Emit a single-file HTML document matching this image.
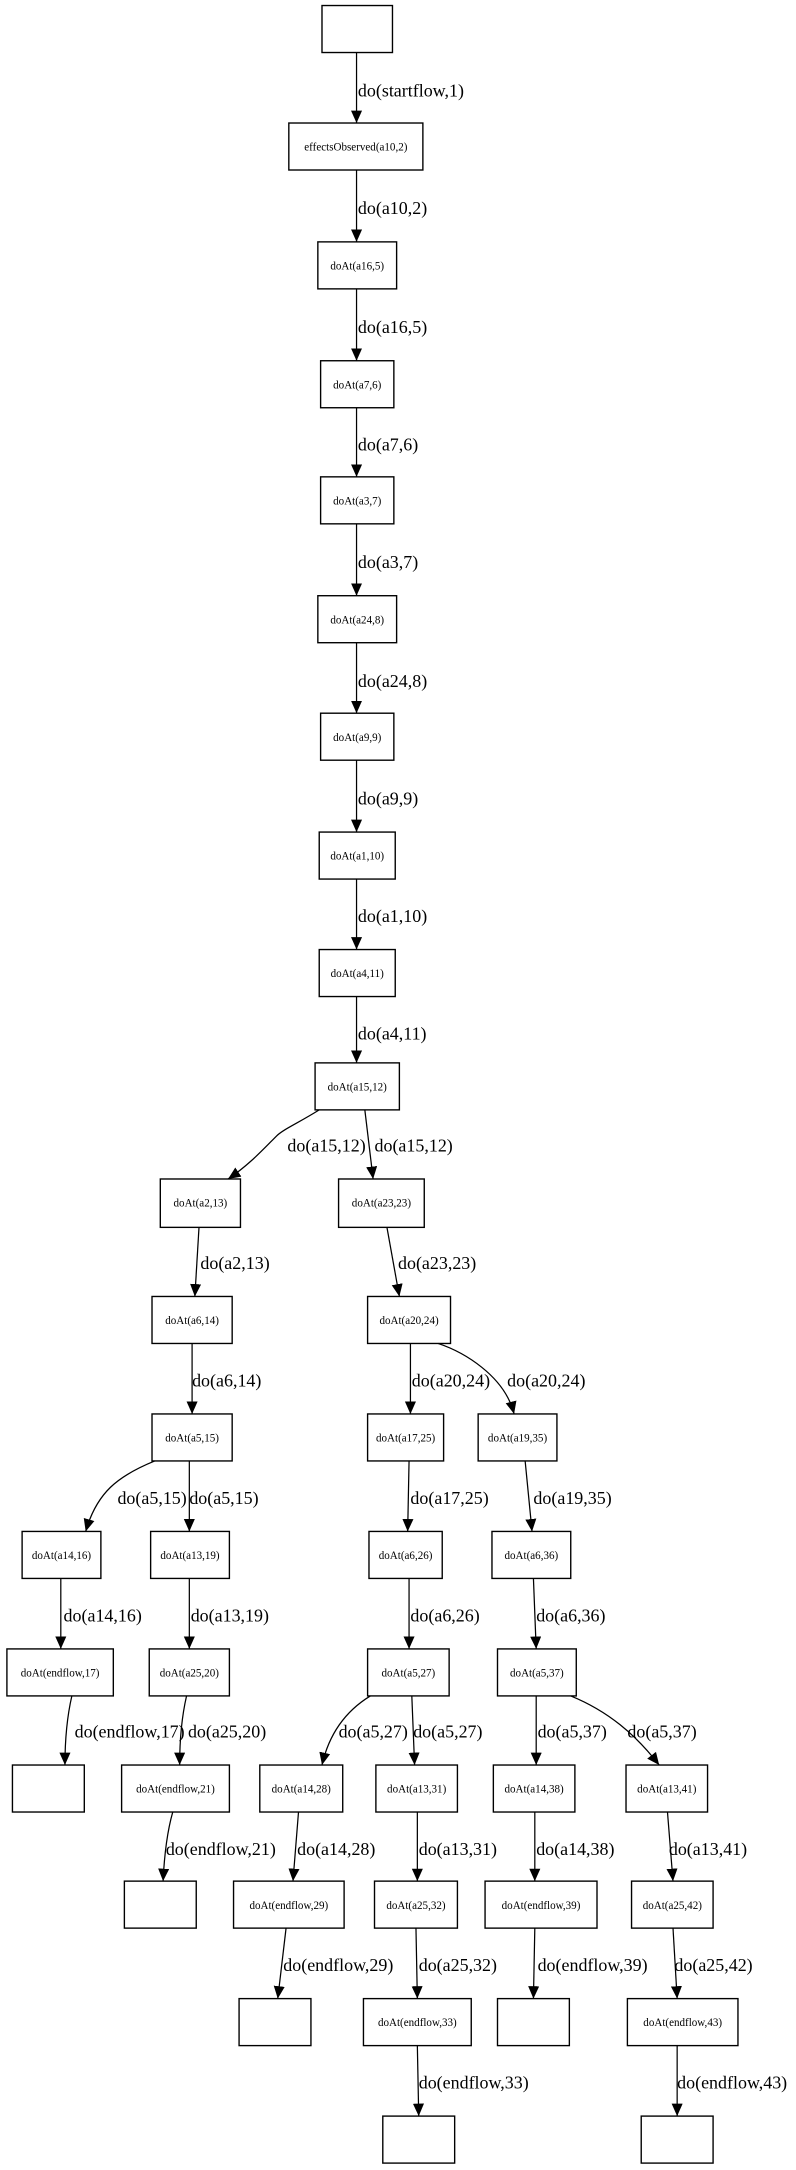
<!DOCTYPE html>
<html><head><meta charset="utf-8"><style>
html,body{margin:0;padding:0;background:#fff;}
svg{display:block;}
.n{fill:#fff;stroke:#000;stroke-width:1;}
.t{font-family:"Liberation Serif",serif;font-size:8px;text-anchor:middle;}
.l{font-family:"Liberation Serif",serif;font-size:13px;}
.e{fill:none;stroke:#000;stroke-width:0.9;marker-end:url(#a);}
</style></head><body>
<svg width="796" height="2170" viewBox="0 0 576 1570" preserveAspectRatio="none" xmlns="http://www.w3.org/2000/svg">
<defs><marker id="a" markerWidth="10" markerHeight="10" refX="9" refY="4" orient="auto" markerUnits="userSpaceOnUse"><path d="M0,0 L9,4 L0,8 z" fill="#000"/></marker></defs>
<rect class="n" x="233" y="4" width="51" height="34"/>
<rect class="n" x="209" y="89" width="97" height="34"/><text class="t" x="257.5" y="109">effectsObserved(a10,2)</text>
<rect class="n" x="230" y="175" width="57" height="34"/><text class="t" x="258.5" y="195">doAt(a16,5)</text>
<rect class="n" x="232" y="261" width="53" height="34"/><text class="t" x="258.5" y="281">doAt(a7,6)</text>
<rect class="n" x="232" y="345" width="53" height="34"/><text class="t" x="258.5" y="365">doAt(a3,7)</text>
<rect class="n" x="230" y="431" width="57" height="34"/><text class="t" x="258.5" y="451">doAt(a24,8)</text>
<rect class="n" x="232" y="516" width="53" height="34"/><text class="t" x="258.5" y="536">doAt(a9,9)</text>
<rect class="n" x="231" y="602" width="55" height="34"/><text class="t" x="258.5" y="622">doAt(a1,10)</text>
<rect class="n" x="231" y="687" width="55" height="34"/><text class="t" x="258.5" y="707">doAt(a4,11)</text>
<rect class="n" x="228" y="769" width="61" height="34"/><text class="t" x="258.5" y="789">doAt(a15,12)</text>
<rect class="n" x="116" y="853" width="58" height="35"/><text class="t" x="145" y="873">doAt(a2,13)</text>
<rect class="n" x="245" y="853" width="62" height="35"/><text class="t" x="276" y="873">doAt(a23,23)</text>
<rect class="n" x="110" y="938" width="58" height="34"/><text class="t" x="139" y="958">doAt(a6,14)</text>
<rect class="n" x="266" y="938" width="60" height="34"/><text class="t" x="296" y="958">doAt(a20,24)</text>
<rect class="n" x="110" y="1023" width="58" height="34"/><text class="t" x="139" y="1043">doAt(a5,15)</text>
<rect class="n" x="266" y="1023" width="55" height="34"/><text class="t" x="293.5" y="1043">doAt(a17,25)</text>
<rect class="n" x="346" y="1023" width="57" height="34"/><text class="t" x="374.5" y="1043">doAt(a19,35)</text>
<rect class="n" x="16" y="1108" width="57" height="34"/><text class="t" x="44.5" y="1128">doAt(a14,16)</text>
<rect class="n" x="109" y="1108" width="57" height="34"/><text class="t" x="137.5" y="1128">doAt(a13,19)</text>
<rect class="n" x="267" y="1108" width="53" height="34"/><text class="t" x="293.5" y="1128">doAt(a6,26)</text>
<rect class="n" x="356" y="1108" width="57" height="34"/><text class="t" x="384.5" y="1128">doAt(a6,36)</text>
<rect class="n" x="5" y="1193" width="77" height="34"/><text class="t" x="43.5" y="1213">doAt(endflow,17)</text>
<rect class="n" x="108" y="1193" width="58" height="34"/><text class="t" x="137" y="1213">doAt(a25,20)</text>
<rect class="n" x="266" y="1193" width="59" height="34"/><text class="t" x="295.5" y="1213">doAt(a5,27)</text>
<rect class="n" x="360" y="1193" width="57" height="34"/><text class="t" x="388.5" y="1213">doAt(a5,37)</text>
<rect class="n" x="9" y="1277" width="52" height="34"/>
<rect class="n" x="88" y="1277" width="78" height="34"/><text class="t" x="127" y="1297">doAt(endflow,21)</text>
<rect class="n" x="188" y="1277" width="60" height="34"/><text class="t" x="218" y="1297">doAt(a14,28)</text>
<rect class="n" x="272" y="1277" width="59" height="34"/><text class="t" x="301.5" y="1297">doAt(a13,31)</text>
<rect class="n" x="357" y="1277" width="59" height="34"/><text class="t" x="386.5" y="1297">doAt(a14,38)</text>
<rect class="n" x="453" y="1277" width="59" height="34"/><text class="t" x="482.5" y="1297">doAt(a13,41)</text>
<rect class="n" x="90" y="1361" width="52" height="34"/>
<rect class="n" x="169" y="1361" width="80" height="34"/><text class="t" x="209" y="1381">doAt(endflow,29)</text>
<rect class="n" x="271" y="1361" width="60" height="34"/><text class="t" x="301" y="1381">doAt(a25,32)</text>
<rect class="n" x="351" y="1361" width="81" height="34"/><text class="t" x="391.5" y="1381">doAt(endflow,39)</text>
<rect class="n" x="457" y="1361" width="59" height="34"/><text class="t" x="486.5" y="1381">doAt(a25,42)</text>
<rect class="n" x="173" y="1446" width="52" height="34"/>
<rect class="n" x="263" y="1446" width="78" height="34"/><text class="t" x="302" y="1466">doAt(endflow,33)</text>
<rect class="n" x="360" y="1446" width="52" height="34"/>
<rect class="n" x="454" y="1446" width="80" height="34"/><text class="t" x="494" y="1466">doAt(endflow,43)</text>
<rect class="n" x="277" y="1531" width="52" height="34"/>
<rect class="n" x="464" y="1531" width="52" height="34"/>
<path class="e" d="M258,38 L258,89"/><text class="l" x="259" y="70">do(startflow,1)</text>
<path class="e" d="M258,123 L258,175"/><text class="l" x="259" y="155">do(a10,2)</text>
<path class="e" d="M258,209 L258,261"/><text class="l" x="259" y="241">do(a16,5)</text>
<path class="e" d="M258,295 L258,345"/><text class="l" x="259" y="326">do(a7,6)</text>
<path class="e" d="M258,379 L258,431"/><text class="l" x="259" y="411">do(a3,7)</text>
<path class="e" d="M258,465 L258,516"/><text class="l" x="259" y="497">do(a24,8)</text>
<path class="e" d="M258,550 L258,602"/><text class="l" x="259" y="582">do(a9,9)</text>
<path class="e" d="M258,636 L258,687"/><text class="l" x="259" y="667">do(a1,10)</text>
<path class="e" d="M258,721 L258,769"/><text class="l" x="259" y="752">do(a4,11)</text>
<path class="e" d="M231,803 C215,813 205,817 200,822 C190,832 180,843 165,853"/><text class="l" x="208" y="833">do(a15,12)</text>
<path class="e" d="M264,803 L270,853"/><text class="l" x="271" y="833">do(a15,12)</text>
<path class="e" d="M144,888 L141,938"/><text class="l" x="145" y="918">do(a2,13)</text>
<path class="e" d="M280,888 L289,938"/><text class="l" x="288" y="918">do(a23,23)</text>
<path class="e" d="M139,972 L139,1023"/><text class="l" x="139" y="1003">do(a6,14)</text>
<path class="e" d="M297,972 L297,1023"/><text class="l" x="298" y="1003">do(a20,24)</text>
<path class="e" d="M317,972 C335,978 365,995 372,1023"/><text class="l" x="367" y="1003">do(a20,24)</text>
<path class="e" d="M112,1057 C85,1068 70,1080 62,1108"/><text class="l" x="85" y="1088">do(a5,15)</text>
<path class="e" d="M137,1057 L137,1108"/><text class="l" x="137" y="1088">do(a5,15)</text>
<path class="e" d="M296,1057 L295,1108"/><text class="l" x="297" y="1088">do(a17,25)</text>
<path class="e" d="M380,1057 L385,1108"/><text class="l" x="386" y="1088">do(a19,35)</text>
<path class="e" d="M44,1142 L44,1193"/><text class="l" x="46" y="1173">do(a14,16)</text>
<path class="e" d="M137,1142 L137,1193"/><text class="l" x="138" y="1173">do(a13,19)</text>
<path class="e" d="M296,1142 L296,1193"/><text class="l" x="297" y="1173">do(a6,26)</text>
<path class="e" d="M386,1142 L388,1193"/><text class="l" x="388" y="1173">do(a6,36)</text>
<path class="e" d="M52,1227 C49,1240 47,1255 47,1277"/><text class="l" x="54" y="1257">do(endflow,17)</text>
<path class="e" d="M135,1227 C132,1240 130,1255 130,1277"/><text class="l" x="136" y="1257">do(a25,20)</text>
<path class="e" d="M268,1227 C250,1238 238,1255 233,1277"/><text class="l" x="245" y="1257">do(a5,27)</text>
<path class="e" d="M298,1227 L300,1277"/><text class="l" x="299" y="1257">do(a5,27)</text>
<path class="e" d="M388,1227 L388,1277"/><text class="l" x="389" y="1257">do(a5,37)</text>
<path class="e" d="M413,1227 C440,1238 460,1255 477,1277"/><text class="l" x="454" y="1257">do(a5,37)</text>
<path class="e" d="M125,1311 C121,1325 119,1340 118,1361"/><text class="l" x="120" y="1342">do(endflow,21)</text>
<path class="e" d="M216,1311 L212,1361"/><text class="l" x="215" y="1342">do(a14,28)</text>
<path class="e" d="M302,1311 L302,1361"/><text class="l" x="303" y="1342">do(a13,31)</text>
<path class="e" d="M387,1311 L387,1361"/><text class="l" x="388" y="1342">do(a14,38)</text>
<path class="e" d="M483,1311 L487,1361"/><text class="l" x="484" y="1342">do(a13,41)</text>
<path class="e" d="M207,1395 L201,1446"/><text class="l" x="205" y="1426">do(endflow,29)</text>
<path class="e" d="M301,1395 L302,1446"/><text class="l" x="303" y="1426">do(a25,32)</text>
<path class="e" d="M387,1395 L386,1446"/><text class="l" x="389" y="1426">do(endflow,39)</text>
<path class="e" d="M487,1395 L490,1446"/><text class="l" x="488" y="1426">do(a25,42)</text>
<path class="e" d="M302,1480 L303,1531"/><text class="l" x="303" y="1511">do(endflow,33)</text>
<path class="e" d="M490,1480 L490,1531"/><text class="l" x="490" y="1511">do(endflow,43)</text>
</svg>
</body></html>
